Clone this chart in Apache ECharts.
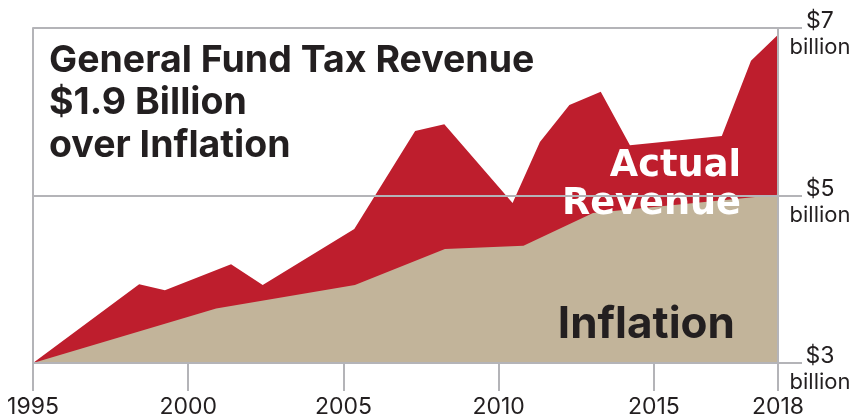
<!DOCTYPE html>
<html>
<head>
<meta charset="utf-8">
<script src="https://cdn.jsdelivr.net/npm/echarts@6/dist/echarts.min.js"></script>
<style>
html,body{margin:0;padding:0;background:#fff;}
#chart{width:856px;height:419px;}
</style>
</head>
<body>
<div id="chart"></div>
<script>
// Data (x in years, y in $ billions)
const revenueYears = [1995, 1998.42, 1999.25, 2001.38, 2002.40, 2005.35, 2007.31, 2008.25, 2010.45, 2011.33, 2012.28, 2013.29, 2014.23, 2017.19, 2018.13, 2019];
const revenueValues = [3.0, 3.94, 3.87, 4.18, 3.93, 4.60, 5.77, 5.85, 4.91, 5.64, 6.08, 6.24, 5.60, 5.71, 6.61, 6.92];
const inflationYears = [1995, 2000.90, 2005.37, 2008.27, 2010.80, 2013.04, 2019];
const inflationValues = [3.0, 3.65, 3.93, 4.36, 4.40, 4.79, 5.01];
const xTickValues = [1995, 2000, 2005, 2010, 2015, 2019];
const xTickLabels = ['1995', '2000', '2005', '2010', '2015', '2018'];
const yTickValues = [3, 5, 7];
const yTickLabels = ['$3', '$5', '$7'];
const titleLines = ['General Fund Tax Revenue', '$1.9 Billion', 'over Inflation'];
const revenueLabel = ['Actual', 'Revenue'];
const inflationLabel = 'Inflation';

const GRAY = '#b4b4b8';
const RED = '#be1e2d';
const TAN = '#c2b49a';
const INK = '#231f20';
const FONT = 'Inter';
const WIDE = '"DejaVu Sans"';

const pairs = (xs, ys) => xs.map((x, i) => [x, ys[i]]);

const chart = echarts.init(document.getElementById('chart'), null, {renderer: 'canvas'});
chart.setOption({
  animation: false,
  backgroundColor: '#fff',
  grid: {left: 33, right: 78, top: 28, bottom: 53},
  title: [
    {
      text: titleLines.join('\n'),
      left: 44, top: 34,
      textStyle: {fontFamily: FONT, fontWeight: 700, fontSize: 37.5, lineHeight: 42.5, color: INK}
    },
    {
      text: revenueLabel[0],
      right: 110, top: 142,
      textStyle: {fontFamily: WIDE, fontWeight: 700, fontSize: 36.7, lineHeight: 38, color: '#fff'}
    },
    {
      text: revenueLabel[1],
      right: 110, top: 180,
      textStyle: {fontFamily: WIDE, fontWeight: 700, fontSize: 36.7, lineHeight: 38, color: '#fff'}
    },
    {
      text: inflationLabel,
      right: 116, top: 297,
      textStyle: {fontFamily: FONT, fontWeight: 700, fontSize: 44, lineHeight: 46, color: INK}
    }
  ],
  xAxis: {
    type: 'value',
    min: 1995, max: 2019,
    axisLine: {show: true, lineStyle: {color: GRAY, width: 2}},
    axisTick: {show: true, length: 28, customValues: xTickValues, lineStyle: {color: GRAY, width: 2}},
    axisLabel: {
      customValues: xTickValues,
      margin: 33,
      fontFamily: FONT, fontSize: 23, color: INK,
      formatter: v => xTickLabels[xTickValues.indexOf(v)]
    },
    splitLine: {show: false}
  },
  yAxis: [
    {
      type: 'value', position: 'right', min: 3, max: 7, interval: 2, z: 10,
      axisLine: {show: true, lineStyle: {color: GRAY, width: 2}},
      axisTick: {show: true, length: 24, lineStyle: {color: GRAY, width: 2}},
      splitLine: {show: true, lineStyle: {color: GRAY, width: 2}},
      axisLabel: {
        margin: 42, align: 'center', padding: [13, 0, 0, 0],
        formatter: v => '{a|' + yTickLabels[yTickValues.indexOf(v)] + '}\n{b|billion}',
        rich: {
          a: {fontFamily: FONT, fontSize: 23, lineHeight: 26, color: INK, align: 'center'},
          b: {fontFamily: FONT, fontSize: 22, lineHeight: 26, color: INK, align: 'center'}
        }
      }
    },
    {
      type: 'value', position: 'left', min: 3, max: 7, interval: 2, z: 10,
      axisLine: {show: true, lineStyle: {color: GRAY, width: 2}},
      axisTick: {show: false}, axisLabel: {show: false}, splitLine: {show: false}
    }
  ],
  series: [
    {
      name: 'Actual Revenue', type: 'line', yAxisIndex: 0,
      data: pairs(revenueYears, revenueValues),
      showSymbol: false, silent: true,
      lineStyle: {width: 0},
      areaStyle: {color: RED, opacity: 1, origin: 'start'},
      z: 2
    },
    {
      name: 'Inflation', type: 'line', yAxisIndex: 0,
      data: pairs(inflationYears, inflationValues),
      showSymbol: false, silent: true,
      lineStyle: {width: 0},
      areaStyle: {color: TAN, opacity: 1, origin: 'start'},
      z: 3
    }
  ]
});
</script>
</body>
</html>
